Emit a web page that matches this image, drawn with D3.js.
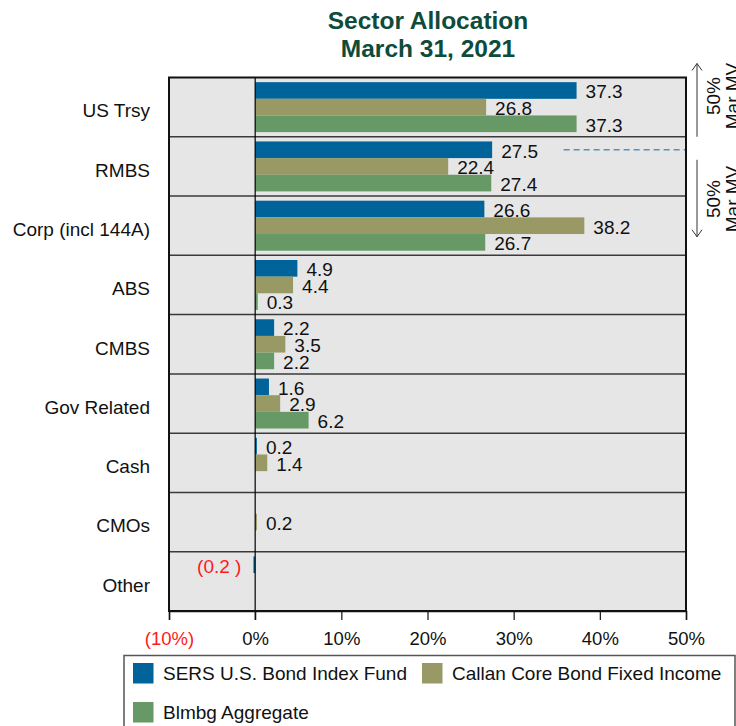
<!DOCTYPE html>
<html>
<head>
<meta charset="utf-8">
<script src="https://cdn.jsdelivr.net/npm/d3@7"></script>
<style>
  html, body { margin: 0; padding: 0; background: #fff; }
  svg { display: block; font-family: Arial, "Liberation Sans", sans-serif; }
</style>
</head>
<body>
<svg id="chart" width="736" height="726"></svg>
<script>
// ---- Data ----
const title = ["Sector Allocation", "March 31, 2021"];
const categories = ["US Trsy", "RMBS", "Corp (incl 144A)", "ABS", "CMBS", "Gov Related", "Cash", "CMOs", "Other"];
const seriesNames = ["SERS U.S. Bond Index Fund", "Callan Core Bond Fixed Income", "Blmbg Aggregate"];
const seriesColors = ["#00639a", "#999966", "#669966"];
const sersValues   = [37.3, 27.5, 26.6, 4.9, 2.2, 1.6, 0.2, null, -0.2];
const callanValues = [26.8, 22.4, 38.2, 4.4, 3.5, 2.9, 1.4, 0.2, null];
const blmbgValues  = [37.3, 27.4, 26.7, 0.3, 2.2, 6.2, null, null, null];
const tickValues = [-10, 0, 10, 20, 30, 40, 50];
const annotationText = ["50%", "Mar MV"];

const seriesValues = [sersValues, callanValues, blmbgValues];

// ---- Layout ----
const svg = d3.select("#chart");
const plot = { left: 169, right: 686, top: 77.5, bottom: 611 };

const x = d3.scaleLinear().domain([-10, 50]).range([plot.left, plot.right]);
const y0 = d3.scaleBand().domain(categories).range([plot.top, plot.bottom])
  .paddingInner(0.157).paddingOuter(0.0785);
const y1 = d3.scaleBand().domain(d3.range(seriesNames.length)).range([0, y0.bandwidth()]);
const step = y0.step();

const fmtVal = v => v < 0 ? `(${Math.abs(v).toFixed(1)} )` : v.toFixed(1);
const fmtTick = d => d < 0 ? `(${Math.abs(d)}%)` : `${d}%`;

// Title
svg.append("g").selectAll("text").data(title).join("text")
  .attr("x", 428).attr("y", (d, i) => 29 + i * 28)
  .attr("text-anchor", "middle")
  .attr("font-size", 24.5).attr("font-weight", "bold")
  .attr("fill", "#0d4b3b")
  .text(d => d);

// Plot background
svg.append("rect")
  .attr("x", plot.left).attr("y", plot.top)
  .attr("width", plot.right - plot.left).attr("height", plot.bottom - plot.top)
  .attr("fill", "#e6e6e6");

// Row separators
const rows = svg.append("g");
categories.forEach((c, i) => {
  if (i === 0) return;
  const yy = plot.top + i * step;
  rows.append("line")
    .attr("x1", plot.left).attr("x2", plot.right)
    .attr("y1", yy).attr("y2", yy)
    .attr("stroke", "#3a3a3a").attr("stroke-width", 1.5);
});

// Category labels
svg.append("g").selectAll("text").data(categories).join("text")
  .attr("x", 150)
  .attr("y", d => plot.top + categories.indexOf(d) * step + step / 2 + 3.5)
  .attr("dy", "0.36em")
  .attr("text-anchor", "end")
  .attr("font-size", 19).attr("fill", "#111")
  .text(d => d);

// Bars
const barData = [];
categories.forEach((c, ci) => {
  seriesValues.forEach((vals, si) => {
    const v = vals[ci];
    if (v !== null && v !== undefined) barData.push({ cat: c, s: si, v });
  });
});

const bars = svg.append("g");
bars.selectAll("rect").data(barData).join("rect")
  .attr("x", d => x(Math.min(0, d.v)))
  .attr("y", d => y0(d.cat) + y1(d.s))
  .attr("width", d => Math.abs(x(d.v) - x(0)))
  .attr("height", y1.bandwidth())
  .attr("fill", d => seriesColors[d.s]);

// Zero line
svg.append("line")
  .attr("x1", x(0)).attr("x2", x(0))
  .attr("y1", plot.top).attr("y2", plot.bottom + 9)
  .attr("stroke", "#000").attr("stroke-width", 1.2);

// Dashed reference line at RMBS SERS bar
svg.append("line")
  .attr("x1", x(35.8)).attr("x2", plot.right)
  .attr("y1", y0("RMBS") + y1(0) + y1.bandwidth() / 2)
  .attr("y2", y0("RMBS") + y1(0) + y1.bandwidth() / 2)
  .attr("stroke", "#4f93c4").attr("stroke-width", 1.5)
  .attr("stroke-dasharray", "6,4");

// Value labels
const labels = svg.append("g");
barData.forEach(d => {
  const cy = y0(d.cat) + y1(d.s) + y1.bandwidth() / 2 + 1;
  const neg = d.v < 0;
  labels.append("text")
    .attr("x", neg ? x(d.v) - 12 : x(d.v) + 9)
    .attr("y", cy)
    .attr("dy", "0.36em")
    .attr("text-anchor", neg ? "end" : "start")
    .attr("font-size", 19)
    .attr("fill", neg ? "#ff1a1a" : "#111")
    .text(fmtVal(d.v));
});

// Plot border
svg.append("rect")
  .attr("x", plot.left).attr("y", plot.top)
  .attr("width", plot.right - plot.left).attr("height", plot.bottom - plot.top)
  .attr("fill", "none").attr("stroke", "#111").attr("stroke-width", 2);

// X axis
const xAxis = d3.axisBottom(x).tickValues(tickValues).tickFormat(fmtTick)
  .tickSize(9).tickPadding(12);
const ax = svg.append("g").attr("transform", `translate(0,${plot.bottom})`).call(xAxis);
ax.select(".domain").attr("stroke", "#111").attr("stroke-width", 1.5);
ax.selectAll(".tick line").attr("stroke", "#111").attr("stroke-width", 1.2);
ax.selectAll(".tick text")
  .attr("font-size", 18.5)
  .attr("font-family", "Arial, 'Liberation Sans', sans-serif")
  .attr("fill", d => d < 0 ? "#ff1a1a" : "#111");

// Right-side annotations (arrows + text)
const ann = svg.append("g");
const ax0 = 697;
function arrow(yFrom, yTo) {
  ann.append("line").attr("x1", ax0).attr("x2", ax0).attr("y1", yFrom).attr("y2", yTo)
    .attr("stroke", "#333").attr("stroke-width", 1);
  const dir = yTo < yFrom ? 1 : -1;
  ann.append("path")
    .attr("d", `M${ax0 - 5},${yTo + dir * 7} L${ax0},${yTo} L${ax0 + 5},${yTo + dir * 7}`)
    .attr("fill", "none").attr("stroke", "#333").attr("stroke-width", 1);
}
const rowB1 = plot.top + step;
arrow(rowB1, plot.top - 14);
arrow(rowB1 + 23, rowB1 + 100);
function annText(cy) {
  const t = ann.append("text")
    .attr("transform", `translate(720,${cy}) rotate(-90)`)
    .attr("text-anchor", "middle")
    .attr("font-size", 19).attr("fill", "#111");
  annotationText.forEach((s, i) => {
    t.append("tspan").attr("x", 0).attr("y", i * 19).text(s);
  });
}
annText(96);
annText(199);

// Legend
const leg = svg.append("g");
leg.append("rect")
  .attr("x", 124).attr("y", 655.5).attr("width", 611).attr("height", 80)
  .attr("fill", "#fff").attr("stroke", "#555").attr("stroke-width", 1.5);
const legPos = [[133, 663], [422, 663], [133, 702]];
seriesNames.forEach((n, i) => {
  const [lx, ly] = legPos[i];
  leg.append("rect").attr("x", lx).attr("y", ly).attr("width", 20.5).attr("height", 20.5)
    .attr("fill", seriesColors[i]);
  leg.append("text").attr("x", lx + 30).attr("y", ly + 10.5).attr("dy", "0.36em")
    .attr("font-size", 19).attr("fill", "#111").text(n);
});
</script>
</body>
</html>
